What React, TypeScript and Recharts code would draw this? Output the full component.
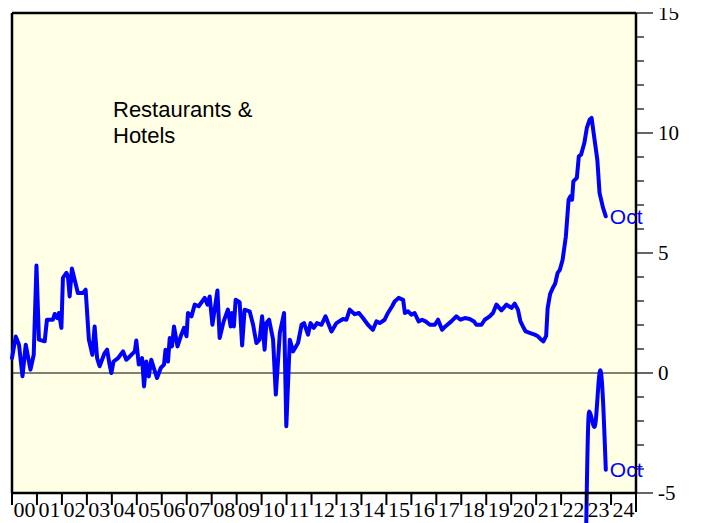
import React from 'react';
import { LineChart, Line, XAxis, YAxis, CartesianGrid, ReferenceLine } from 'recharts';

// main series: year (decimal) and % change
const mainYears = [
  2000.0, 2000.15, 2000.28, 2000.42, 2000.55, 2000.74, 2000.87, 2000.98, 2001.08, 2001.31,
  2001.4, 2001.64, 2001.71, 2001.82, 2001.88, 2001.98, 2002.04, 2002.18, 2002.24, 2002.31,
  2002.4, 2002.64, 2002.84, 2002.95, 2003.08, 2003.22, 2003.31, 2003.41, 2003.51, 2003.71,
  2003.81, 2003.91, 2003.98, 2004.07, 2004.25, 2004.35, 2004.45, 2004.58, 2004.72, 2004.92,
  2004.98, 2005.08, 2005.21, 2005.29, 2005.38, 2005.48, 2005.58, 2005.68, 2005.81, 2005.96,
  2006.09, 2006.15, 2006.25, 2006.32, 2006.41, 2006.49, 2006.63, 2006.76, 2006.89, 2006.99,
  2007.05, 2007.19, 2007.32, 2007.48, 2007.72, 2007.83, 2007.92, 2008.03, 2008.23, 2008.32,
  2008.48, 2008.65, 2008.76, 2008.81, 2008.89, 2008.96, 2009.12, 2009.22, 2009.32, 2009.52,
  2009.66, 2009.79, 2009.92, 2010.02, 2010.12, 2010.19, 2010.3, 2010.46, 2010.57, 2010.73,
  2010.9, 2010.99, 2011.13, 2011.26, 2011.46, 2011.6, 2011.7, 2011.86, 2011.96, 2012.09,
  2012.22, 2012.4, 2012.56, 2012.8, 2013.0, 2013.26, 2013.4, 2013.53, 2013.73, 2013.9,
  2014.06, 2014.26, 2014.46, 2014.6, 2014.73, 2014.93, 2015.06, 2015.23, 2015.33, 2015.49,
  2015.67, 2015.74, 2015.87, 2016.0, 2016.13, 2016.29, 2016.43, 2016.57, 2016.74, 2016.94,
  2017.07, 2017.23, 2017.36, 2017.6, 2017.8, 2017.97, 2018.14, 2018.34, 2018.51, 2018.6,
  2018.81, 2018.94, 2019.14, 2019.27, 2019.41, 2019.61, 2019.81, 2020.01, 2020.14, 2020.27,
  2020.37, 2020.47, 2020.58, 2020.74, 2020.94, 2021.07, 2021.2, 2021.29, 2021.4, 2021.46,
  2021.56, 2021.67, 2021.76, 2021.86, 2021.95, 2022.06, 2022.19, 2022.3, 2022.37, 2022.44,
  2022.49, 2022.63, 2022.71, 2022.8, 2022.93, 2023.03, 2023.14, 2023.22, 2023.34, 2023.45,
  2023.54, 2023.68, 2023.79,
];
const mainValues = [
  0.62, 1.52, 1.18, -0.14, 1.18, 0.14, 0.76, 4.48, 1.39, 1.32,
  2.22, 2.22, 2.46, 2.29, 2.5, 1.88, 3.96, 4.17, 4.03, 3.19,
  4.35, 3.33, 3.33, 3.47, 1.39, 0.76, 1.94, 0.62, 0.28, 0.83,
  0.97, 0.35, 0.0, 0.48, 0.62, 0.76, 0.9, 0.55, 0.69, 0.9,
  1.35, 0.35, 0.62, -0.56, 0.48, -0.14, 0.55, 0.21, -0.21, 0.21,
  0.35, 0.97, 0.48, 1.46, 1.11, 1.94, 1.11, 1.53, 1.88, 1.53,
  2.5, 2.36, 2.85, 2.78, 3.13, 2.85, 3.19, 2.01, 3.44, 1.46,
  2.15, 2.64, 1.94, 2.5, 1.94, 3.05, 2.95, 1.15, 2.64, 2.57,
  2.01, 1.25, 1.39, 2.36, 0.97, 2.08, 2.22, 1.39, -0.9, 1.67,
  2.5, -2.22, 1.39, 0.9, 1.25, 2.01, 2.08, 1.6, 2.08, 1.88,
  2.08, 2.01, 2.36, 1.73, 2.08, 2.25, 2.22, 2.64, 2.45, 2.5,
  2.29, 2.01, 1.8, 2.15, 2.08, 2.22, 2.5, 2.78, 2.98, 3.13,
  3.05, 2.5, 2.57, 2.43, 2.5, 2.15, 2.22, 2.15, 2.01, 2.01,
  2.22, 1.8, 1.94, 2.15, 2.36, 2.22, 2.29, 2.25, 2.15, 2.01,
  2.01, 2.22, 2.36, 2.5, 2.85, 2.61, 2.85, 2.71, 2.89, 2.64,
  2.15, 1.94, 1.73, 1.67, 1.6, 1.53, 1.39, 1.32, 1.55, 2.7,
  3.3, 3.55, 3.72, 4.17, 4.3, 4.72, 5.69, 7.22, 7.36, 7.22,
  7.98, 8.13, 9.03, 9.1, 9.58, 10.21, 10.55, 10.63, 9.72, 8.89,
  7.5, 6.88, 6.53,
];

// second series, only the latest months
const recentYears = [2022.97, 2023.12, 2023.34, 2023.57, 2023.79];
const recentValues = [-9, -1.6, -2.25, 0.11, -4.03];

const yearTicks = [
  2000, 2001, 2002, 2003, 2004, 2005, 2006, 2007, 2008, 2009, 2010, 2011, 2012,
  2013, 2014, 2015, 2016, 2017, 2018, 2019, 2020, 2021, 2022, 2023, 2024, 2025,
];
const yearLabels = [
  '00', '01', '02', '03', '04', '05', '06', '07', '08', '09', '10', '11', '12',
  '13', '14', '15', '16', '17', '18', '19', '20', '21', '22', '23', '24',
];
const valueTicks = [-5, -4, -3, -2, -1, 0, 1, 2, 3, 4, 5, 6, 7, 8, 9, 10, 11, 12, 13, 14, 15];
const labelledValues = [-5, 0, 5, 10, 15];
const endLabel = 'Oct';
const titleLines = ['Restaurants &', 'Hotels'];

const mainData = mainYears.map((x, i) => ({ x, y: mainValues[i] }));
const recentData = recentYears.map((x, i) => ({ x, y: recentValues[i] }));

const WIDTH = 695;
const HEIGHT = 515;
const PLOT_W = 624;
const YEAR_PX = PLOT_W / 25;
const BLUE = '#0000ff';
const SERIF = '"Liberation Serif", "Times New Roman", serif';
const SANS = '"Liberation Sans", Arial, sans-serif';

const YearTick = (props: any) => {
  const { x, y, payload } = props;
  const i = yearTicks.indexOf(payload.value);
  const last = i === yearTicks.length - 1;
  return (
    <g>
      <line x1={x} y1={y} x2={x} y2={y + (last ? 19 : 12)} stroke="#000" strokeWidth={2} />
      {!last && (
        <text
          x={x + YEAR_PX / 2}
          y={y + 24}
          textAnchor="middle"
          fontFamily={SERIF}
          fontSize={22}
          fill="#000"
        >
          {yearLabels[i]}
        </text>
      )}
    </g>
  );
};

const ValueTick = (props: any) => {
  const { x, y, payload } = props;
  const major = labelledValues.includes(payload.value);
  return (
    <g>
      <line x1={x} y1={y} x2={x + (major ? 17 : 8)} y2={y} stroke="#000" strokeWidth={1.2} />
      {major && (
        <text
          x={x + 22}
          y={y}
          dominantBaseline="central"
          fontFamily={SERIF}
          fontSize={21}
          fill="#000"
        >
          {payload.value}
        </text>
      )}
    </g>
  );
};

const endLabelFor = (count: number) => (props: any) => {
  const { x, y, index } = props;
  if (index !== count - 1) return <g key={`e-${index}`} />;
  return (
    <text
      key={`e-${index}`}
      x={x + 4}
      y={y}
      dominantBaseline="central"
      fontFamily={SANS}
      fontSize={21}
      fill={BLUE}
    >
      {endLabel}
    </text>
  );
};

export default function App() {
  return (
    <div style={{ position: 'relative', width: WIDTH, height: HEIGHT }}>
      <style>
        {'html, body { overflow: hidden; } .recharts-surface { overflow: visible; } .no-clip, .no-clip * { clip-path: none !important; }'}
      </style>
      <LineChart width={WIDTH} height={HEIGHT} margin={{ top: 5, right: 7, bottom: 0, left: 4 }}>
        <CartesianGrid horizontal={false} vertical={false} fill="#ffffe6" stroke="none" />
        <XAxis
          dataKey="x"
          type="number"
          domain={[2000, 2025]}
          ticks={yearTicks}
          interval={0}
          height={30}
          tickSize={0}
          tickMargin={0}
          tickLine={false}
          axisLine={{ stroke: '#000', strokeWidth: 2.5 }}
          tick={<YearTick />}
        />
        <YAxis
          orientation="right"
          type="number"
          domain={[-5, 15]}
          allowDataOverflow
          ticks={valueTicks}
          interval={0}
          width={60}
          tickSize={0}
          tickMargin={0}
          tickLine={false}
          axisLine={{ stroke: '#000', strokeWidth: 2.5 }}
          tick={<ValueTick />}
        />
        <ReferenceLine y={15} stroke="#000" strokeWidth={2.5} />
        <ReferenceLine x={2000} stroke="#000" strokeWidth={2.5} />
        <ReferenceLine y={0} stroke="#000" strokeWidth={1} />
        <Line
          data={mainData}
          dataKey="y"
          type="linear"
          stroke={BLUE}
          strokeWidth={4}
          strokeLinejoin="round"
          strokeLinecap="round"
          dot={false}
          className="no-clip"
          label={endLabelFor(mainData.length)}
          isAnimationActive={false}
        />
        <Line
          data={recentData}
          dataKey="y"
          type="monotone"
          stroke={BLUE}
          strokeWidth={4}
          strokeLinecap="round"
          dot={false}
          className="no-clip"
          label={endLabelFor(recentData.length)}
          isAnimationActive={false}
        />
      </LineChart>
      <div
        style={{
          position: 'absolute',
          left: 105,
          top: 89,
          fontFamily: SANS,
          fontSize: 22,
          lineHeight: '25.5px',
          color: '#000',
        }}
      >
        {titleLines.map((t) => (
          <div key={t}>{t}</div>
        ))}
      </div>
    </div>
  );
}
